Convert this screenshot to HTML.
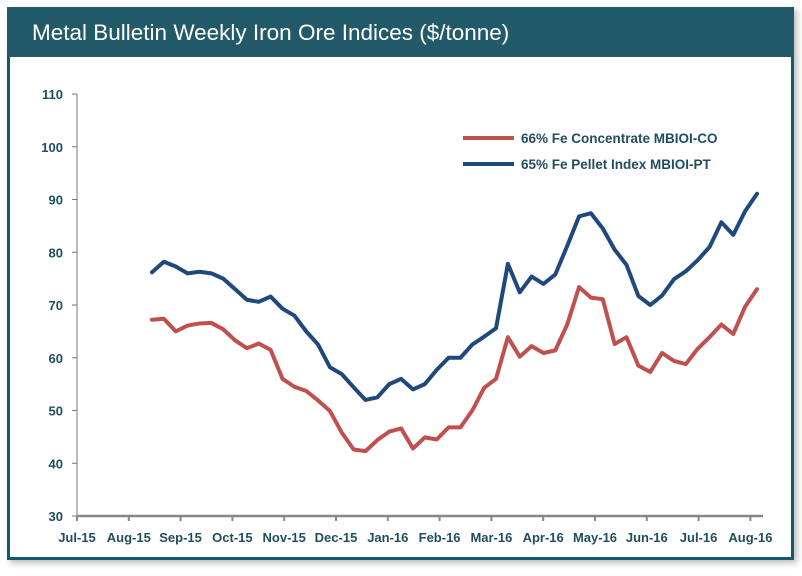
<!DOCTYPE html>
<html><head><meta charset="utf-8"><style>
body{margin:0;background:#fff;width:802px;height:576px;overflow:hidden;font-family:"Liberation Sans",sans-serif}
#frame{position:absolute;left:7px;top:7px;width:781px;height:550px;border:3px solid #145a6a;border-top:none;background:#fff;box-shadow:3px 3px 6px #bbb}
#hdr{position:absolute;left:7px;top:7px;width:787px;height:50px;background:#235a69;color:#fff;font-size:22.5px;line-height:52px;padding-left:25px;box-sizing:border-box}
svg{position:absolute;left:0;top:0}
</style></head><body>
<div id="frame"></div>
<div id="hdr">Metal Bulletin Weekly Iron Ore Indices ($/tonne)</div>
<svg id="c" width="802" height="576"></svg>
<script>
const months=["Jul-15","Aug-15","Sep-15","Oct-15","Nov-15","Dec-15","Jan-16","Feb-16","Mar-16","Apr-16","May-16","Jun-16","Jul-16","Aug-16"];
const yTicks=[30,40,50,60,70,80,90,100,110];
const pellet=[76.2,78.2,77.3,76,76.3,76,75,73,71,70.6,71.6,69.3,68,65,62.5,58.2,56.9,54.4,52,52.5,55,56,54,55,57.7,60,60,62.5,64,65.6,77.8,72.4,75.4,74,75.8,81.2,86.8,87.4,84.5,80.5,77.6,71.7,70,71.8,74.9,76.4,78.5,81,85.7,83.3,87.8,91.1];
const conc=[67.2,67.4,65,66.1,66.5,66.6,65.4,63.3,61.8,62.7,61.5,56,54.5,53.7,51.9,49.9,45.8,42.6,42.3,44.4,46,46.6,42.8,44.9,44.5,46.8,46.8,50,54.3,56,63.9,60.2,62.2,60.9,61.4,66.3,73.4,71.4,71.1,62.6,63.9,58.5,57.3,60.9,59.4,58.8,61.7,63.9,66.3,64.5,69.7,73];
const NS="http://www.w3.org/2000/svg",svg=document.getElementById('c');
const y=v=>516-(v-30)*5.275;
const xm=i=>77+i*51.8;
const xw=i=>152+i*(757-152)/51;
function el(t,a,p){const e=document.createElementNS(NS,t);for(const k in a)e.setAttribute(k,a[k]);(p||svg).appendChild(e);return e;}
let e=el('line',{x1:77,y1:94,x2:77,y2:516,stroke:'#777','stroke-width':1});


e=el('line',{x1:77,y1:516,x2:763,y2:516,stroke:'#888','stroke-width':2.5});


yTicks.forEach(v=>{
 el('line',{x1:72,y1:y(v),x2:77,y2:y(v),stroke:'#777'});
 const t=el('text',{x:63,y:y(v)+5,'text-anchor':'end','font-size':13,'font-weight':'bold',fill:'#1f4e60'});t.textContent=v;
 
 
});
months.forEach((m,i)=>{
 el('line',{x1:xm(i),y1:516,x2:xm(i),y2:521,stroke:'#888','stroke-width':2});
 const t=el('text',{x:xm(i),y:542,'text-anchor':'middle','font-size':13,'font-weight':'bold',fill:'#1f4e60'});t.textContent=m;
 
 
});
function line(d,c,n){const p=el('polyline',{points:d.map((v,i)=>xw(i)+','+y(v)).join(' '),fill:'none',stroke:c,'stroke-width':4,'stroke-linejoin':'round','stroke-linecap':'round'});
 
 }
line(conc,'#c0504d','series-concentrate');
line(pellet,'#1f497d','series-pellet');
[['#c0504d','66% Fe Concentrate MBIOI-CO',138,'legend-entry-concentrate'],['#1f497d','65% Fe Pellet Index MBIOI-PT',164,'legend-entry-pellet']].forEach(([c,l,yy,n])=>{
 const g=el('g',{});
 
 
 el('line',{x1:463,y1:yy,x2:514,y2:yy,stroke:c,'stroke-width':4},g);
 const t=el('text',{x:521,y:yy+5,'font-size':13.5,'font-weight':'bold',fill:'#1f4e60'},g);t.textContent=l;
});
</script>
</body></html>
